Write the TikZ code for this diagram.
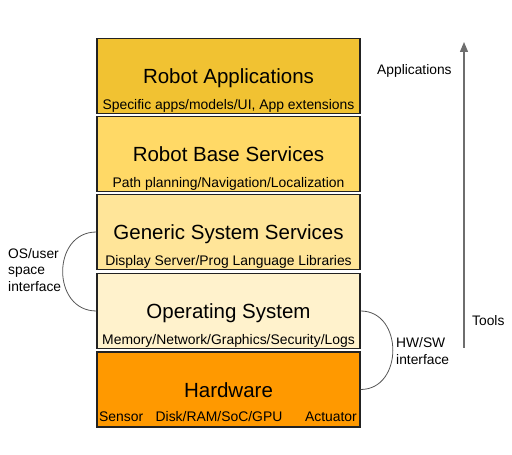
\documentclass[tikz,border=0pt]{standalone}
\usepackage{fontspec}
\setmainfont{Liberation Sans}
\usetikzlibrary{calc,arrows.meta}
\definecolor{cA}{HTML}{F1C232}
\definecolor{cB}{HTML}{FFD966}
\definecolor{cC}{HTML}{FFE599}
\definecolor{cD}{HTML}{FFF2CC}
\definecolor{cE}{HTML}{FF9900}
\definecolor{edge}{HTML}{222222}
\definecolor{curve}{HTML}{555555}
\definecolor{arr}{HTML}{6E6E6E}
\tikzset{
  layer/.style={draw=edge, line width=1.2pt, minimum width=263pt, inner sep=0pt, anchor=center},
  ttl/.style={font=\fontsize{20.5}{23}\selectfont, anchor=base, inner sep=0pt},
  sub/.style={font=\fontsize{13.9}{16}\selectfont, anchor=base, inner sep=0pt},
  side/.style={font=\fontsize{13.8}{16.2}\selectfont, inner sep=0pt, align=left},
  iface/.style={draw=curve, line width=0.8pt},
}
\begin{document}
\begin{tikzpicture}[x=1pt,y=1pt]
\useasboundingbox (0,0) rectangle (512,455);
\node[layer, fill=cA, minimum height=75.5pt] (b1) at (228.5,379) {};
\node[layer, fill=cB, minimum height=75.5pt] (b2) at (228.5,301) {};
\node[layer, fill=cC, minimum height=75.5pt] (b3) at (228.5,223) {};
\node[layer, fill=cD, minimum height=75.5pt] (b4) at (228.5,144) {};
\node[layer, fill=cE, minimum height=75pt] (b5) at (228.5,65.5) {};

\node[ttl] (t1) at ($(b1.center)+(0,-7.5)$) {Robot Applications};
\node[sub] (s1) at ($(b1.south)+(0,4.5)$) {Specific apps/models/UI, App extensions};
\node[ttl] (t2) at ($(b2.center)+(0,-7.5)$) {Robot Base Services};
\node[sub] (s2) at ($(b2.south)+(0,4.5)$) {Path planning/Navigation/Localization};
\node[ttl] (t3) at ($(b3.center)+(0,-7.5)$) {Generic System Services};
\node[sub] (s3) at ($(b3.south)+(0,4.5)$) {Display Server/Prog Language Libraries};
\node[ttl] (t4) at ($(b4.center)+(0,-7.5)$) {Operating System};
\node[sub] (s4) at ($(b4.south)+(0,4.5)$) {Memory/Network/Graphics/Security/Logs};
\node[ttl] (t5) at ($(b5.center)+(0,-7.8)$) {Hardware};
\node[sub, anchor=base west] (s5a) at (99,33.3) {Sensor};
\node[sub] (s5b) at (219,33.3) {Disk/RAM/SoC/GPU};
\node[sub, anchor=base east] (s5c) at (357,33.3) {Actuator};

\draw[iface] (b3.west) .. controls +(-45,0) and +(-45,0) .. (b4.west);
\draw[iface] (b4.east) .. controls +(43,0) and +(43,0) .. (b5.east);

\node[side, anchor=west] (osu) at (8,185) {OS/user\\space\\interface};
\node[side, anchor=west] (hws) at (396,104) {HW/SW\\interface};

\coordinate (abot) at (464,107);
\coordinate (atop) at (464,413);
\draw[arr, line width=1.3pt, -{Triangle[length=10pt,width=8pt]}] (abot) -- (atop);
\node[side, anchor=base west] (apps) at (377,380.7) {Applications};
\node[side, anchor=base west] (tools) at (472,129) {Tools};
\end{tikzpicture}
\end{document}
